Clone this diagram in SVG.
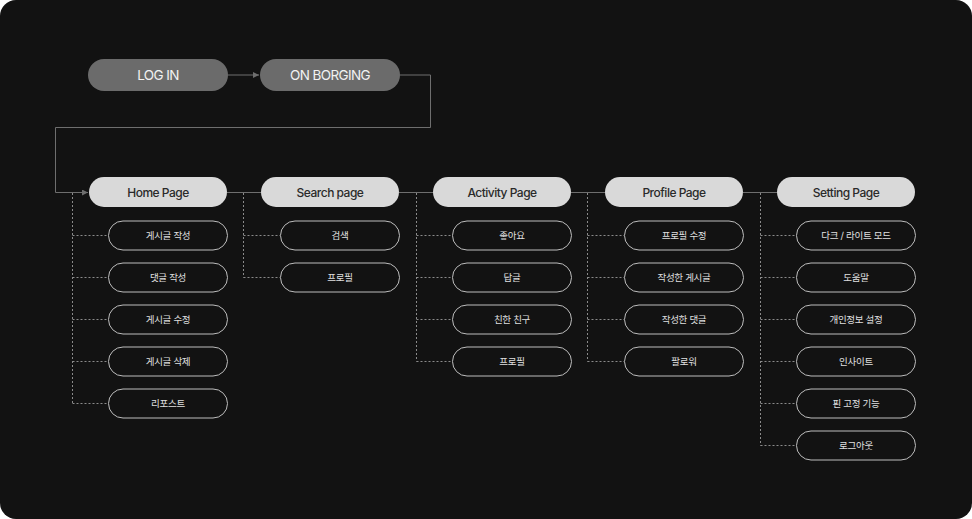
<svg xmlns="http://www.w3.org/2000/svg" width="972" height="519" viewBox="0 0 972 519">
<defs>
<style>
.bg{fill:#121212}
.top rect{fill:#6b6b6b}
.top text{fill:#f2f2f2;font-family:Inter,"Noto Sans CJK KR",sans-serif;font-size:13.5px;letter-spacing:-0.6px;text-anchor:middle;dominant-baseline:central}
.main rect{fill:#d9d9d9}
.main text{fill:#2a2a2a;font-family:Inter,"Noto Sans CJK KR",sans-serif;font-size:12px;font-weight:500;letter-spacing:-0.5px;text-anchor:middle;dominant-baseline:central}
.sub rect{fill:none;stroke:#bdbdbd;stroke-width:1}
.sub text{fill:#e0e0e0;font-family:Inter,"Noto Sans CJK KR",sans-serif;font-size:9.5px;letter-spacing:-0.3px;text-anchor:middle;dominant-baseline:central}
.solid{fill:none;stroke:#6e6e6e;stroke-width:1}
.dash{fill:none;stroke:#8a8a8a;stroke-width:1;stroke-dasharray:2 2}
</style>
<marker id="arr" viewBox="0 0 6 6" refX="6" refY="3" markerWidth="6" markerHeight="6" orient="auto" markerUnits="userSpaceOnUse">
<path d="M0,0 L6,3 L0,6 Z" fill="#6e6e6e"/>
</marker>
</defs>
<rect class="bg" x="0" y="0" width="972" height="519" rx="16"/>
<g id="connectors">
<path class="solid" d="M228,75 H259" marker-end="url(#arr)"/>
<path class="solid" d="M400,75 H430.5 V127.5 H55.5 V192.5 H88" marker-end="url(#arr)"/>
<path class="solid" d="M227,192.5 H261 M399,192.5 H433 M571,192.5 H605 M743,192.5 H777"/>
<path class="dash" d="M72.5,193 V403.5 M72.5,235.5 H108 M72.5,277.5 H108 M72.5,319.5 H108 M72.5,361.5 H108 M72.5,403.5 H108"/>
<path class="dash" d="M243.5,193 V277.5 M243.5,235.5 H280 M243.5,277.5 H280"/>
<path class="dash" d="M416.5,193 V361.5 M416.5,235.5 H452 M416.5,277.5 H452 M416.5,319.5 H452 M416.5,361.5 H452"/>
<path class="dash" d="M587.5,193 V361.5 M587.5,235.5 H624 M587.5,277.5 H624 M587.5,319.5 H624 M587.5,361.5 H624"/>
<path class="dash" d="M760.5,193 V445.5 M760.5,235.5 H796 M760.5,277.5 H796 M760.5,319.5 H796 M760.5,361.5 H796 M760.5,403.5 H796 M760.5,445.5 H796"/>
</g>
<g id="login" class="top"><rect x="88" y="59" width="140" height="32" rx="16"/><text x="158" y="75">LOG IN</text></g>
<g id="onborging" class="top"><rect x="260" y="59" width="140" height="32" rx="16"/><text x="330" y="75">ON BORGING</text></g>
<g id="home" class="main"><rect x="89" y="177" width="138" height="30" rx="15"/><text x="158" y="192">Home Page</text></g>
<g id="search" class="main"><rect x="261" y="177" width="138" height="30" rx="15"/><text x="330" y="192">Search page</text></g>
<g id="activity" class="main"><rect x="433" y="177" width="138" height="30" rx="15"/><text x="502" y="192">Activity Page</text></g>
<g id="profile" class="main"><rect x="605" y="177" width="138" height="30" rx="15"/><text x="674" y="192">Profile Page</text></g>
<g id="setting" class="main"><rect x="777" y="177" width="138" height="30" rx="15"/><text x="846" y="192">Setting Page</text></g>
<g id="home1" class="sub"><rect x="108.5" y="221" width="119" height="29" rx="14.5"/><text x="168" y="235.5">게시글 작성</text></g>
<g id="home2" class="sub"><rect x="108.5" y="263" width="119" height="29" rx="14.5"/><text x="168" y="277.5">댓글 작성</text></g>
<g id="home3" class="sub"><rect x="108.5" y="305" width="119" height="29" rx="14.5"/><text x="168" y="319.5">게시글 수정</text></g>
<g id="home4" class="sub"><rect x="108.5" y="347" width="119" height="29" rx="14.5"/><text x="168" y="361.5">게시글 삭제</text></g>
<g id="home5" class="sub"><rect x="108.5" y="389" width="119" height="29" rx="14.5"/><text x="168" y="403.5">리포스트</text></g>
<g id="search1" class="sub"><rect x="280.5" y="221" width="119" height="29" rx="14.5"/><text x="340" y="235.5">검색</text></g>
<g id="search2" class="sub"><rect x="280.5" y="263" width="119" height="29" rx="14.5"/><text x="340" y="277.5">프로필</text></g>
<g id="act1" class="sub"><rect x="452.5" y="221" width="119" height="29" rx="14.5"/><text x="512" y="235.5">좋아요</text></g>
<g id="act2" class="sub"><rect x="452.5" y="263" width="119" height="29" rx="14.5"/><text x="512" y="277.5">답글</text></g>
<g id="act3" class="sub"><rect x="452.5" y="305" width="119" height="29" rx="14.5"/><text x="512" y="319.5">친한 친구</text></g>
<g id="act4" class="sub"><rect x="452.5" y="347" width="119" height="29" rx="14.5"/><text x="512" y="361.5">프로필</text></g>
<g id="prof1" class="sub"><rect x="624.5" y="221" width="119" height="29" rx="14.5"/><text x="684" y="235.5">프로필 수정</text></g>
<g id="prof2" class="sub"><rect x="624.5" y="263" width="119" height="29" rx="14.5"/><text x="684" y="277.5">작성한 게시글</text></g>
<g id="prof3" class="sub"><rect x="624.5" y="305" width="119" height="29" rx="14.5"/><text x="684" y="319.5">작성한 댓글</text></g>
<g id="prof4" class="sub"><rect x="624.5" y="347" width="119" height="29" rx="14.5"/><text x="684" y="361.5">팔로워</text></g>
<g id="set1" class="sub"><rect x="796.5" y="221" width="119" height="29" rx="14.5"/><text x="856" y="235.5">다크 / 라이트 모드</text></g>
<g id="set2" class="sub"><rect x="796.5" y="263" width="119" height="29" rx="14.5"/><text x="856" y="277.5">도움말</text></g>
<g id="set3" class="sub"><rect x="796.5" y="305" width="119" height="29" rx="14.5"/><text x="856" y="319.5">개인정보 설정</text></g>
<g id="set4" class="sub"><rect x="796.5" y="347" width="119" height="29" rx="14.5"/><text x="856" y="361.5">인사이트</text></g>
<g id="set5" class="sub"><rect x="796.5" y="389" width="119" height="29" rx="14.5"/><text x="856" y="403.5">핀 고정 기능</text></g>
<g id="set6" class="sub"><rect x="796.5" y="431" width="119" height="29" rx="14.5"/><text x="856" y="445.5">로그아웃</text></g>
</svg>
